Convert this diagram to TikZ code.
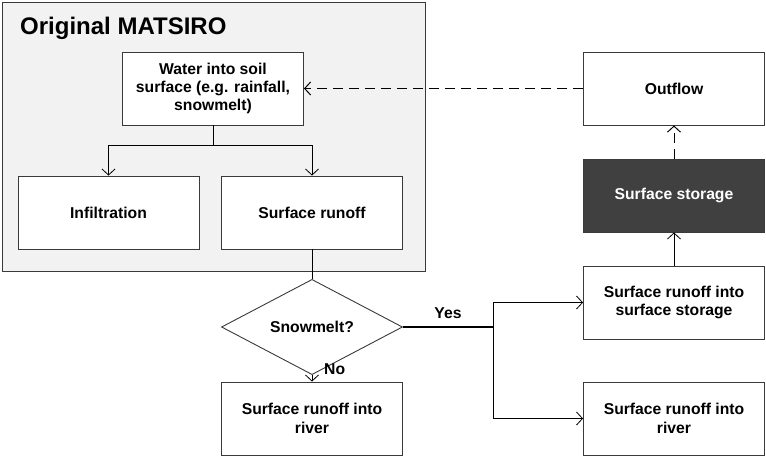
\documentclass[tikz,border=0pt]{standalone}
\usepackage{fontspec}
\setmainfont{Liberation Sans}
\usepackage{xcolor}
\usepackage{tikz}
\usetikzlibrary{arrows.meta,shapes.geometric}

\definecolor{panelgray}{HTML}{F2F2F2}
\definecolor{stordark}{HTML}{404040}
\definecolor{edgegray}{HTML}{3A3A3A}

\tikzset{
    box/.style = {rectangle, draw=edgegray, line width=0.9pt, fill=white, minimum width=181pt, minimum height=73pt,
                  inner sep=0pt, align=center, font=\fontsize{15.7}{18.3}\selectfont\bfseries},
    arr/.style = {-{Straight Barb[length=6pt,width=13pt]}, line width=0.8pt},
    dsh/.style = {dash pattern=on 10pt off 6pt, line width=1pt}
}

\begin{document}
\begin{tikzpicture}[x=1pt, y=-1pt]
        \useasboundingbox (0, 0) rectangle (766, 456);
        % original model panel
        \draw [fill = panelgray, draw = edgegray, line width = 0.9pt] (2, 2) rectangle (425.5, 271.5);
        \node (title) at (20, 28) [anchor = west, inner sep = 0pt, font = \fontsize{24}{26}\selectfont\bfseries] {Original MATSIRO};

        \node (water) at (213, 88.5) [box] {Water into soil\\surface (e.g. rainfall,\\snowmelt)};
        \node (infil) at (108.5, 212.5) [box] {Infiltration};
        \node (runoff) at (312, 212.5) [box] {Surface runoff};
        \node (snow) at (312, 327) [diamond, draw = edgegray, line width = 0.9pt, fill = white, minimum width = 181pt, minimum height = 73pt,
                                    inner sep = 0pt, font = \fontsize{15.7}{18.3}\selectfont\bfseries] {Snowmelt?};
        \node (river) at (312, 418.5) [box] {Surface runoff into\\river};

        % right column
        \node (outflow) at (674, 88.5) [box] {Outflow};
        \node (storage) at (674, 195.5) [box, fill = stordark, text = white] {Surface storage};
        \node (intostore) at (674, 302.5) [box] {Surface runoff into\\surface storage};
        \node (river2) at (674, 418.5) [box] {Surface runoff into\\river};

        \coordinate (split1) at (213, 145.5);
        \coordinate (split2) at (493.5, 327);

        \draw [line width = 0.8pt] (water) -- (split1);
        \draw [arr] (split1) -| (infil);
        \draw [arr] (split1) -| (runoff);
        \draw [line width = 0.8pt] (runoff) -- (snow);
        \draw [arr] (snow) -- (river);
        \draw [line width = 1.8pt] (snow.east) -- (split2);
        \draw [arr] (split2) |- (intostore);
        \draw [arr] (split2) |- (river2);
        \draw [arr] (intostore) -- (storage);
        \draw [arr, dsh] (storage) -- (outflow);
        \draw [arr, dsh] (outflow) -- (water);

        \node (no) at (324, 369.5) [anchor = west, inner sep = 0pt, font = \fontsize{15.7}{18.3}\selectfont\bfseries] {No};
        \node (yes) at (448, 313) [inner sep = 0pt, font = \fontsize{15.7}{18.3}\selectfont\bfseries] {Yes};
\end{tikzpicture}
\end{document}
